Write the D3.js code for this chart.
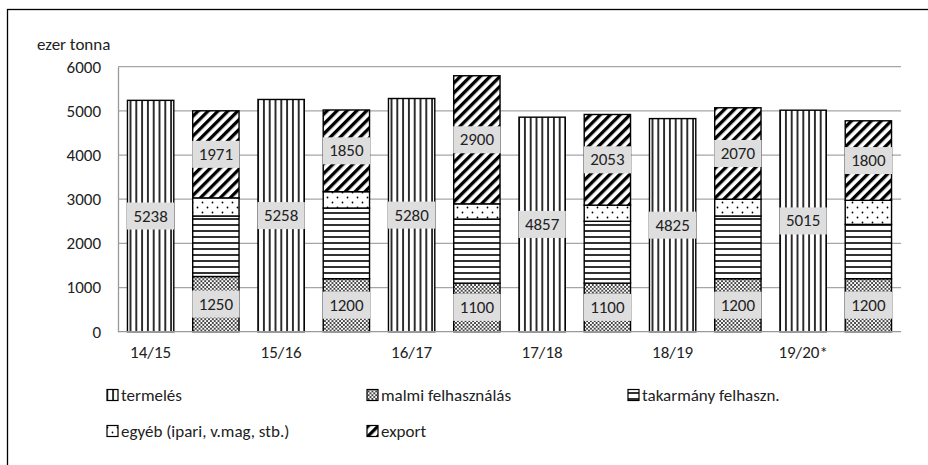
<!DOCTYPE html>
<html>
<head>
<meta charset="utf-8">
<script src="https://cdn.jsdelivr.net/npm/d3@7/dist/d3.min.js"></script>
<style>
  html, body { margin: 0; padding: 0; background: #fff; }
  svg { display: block; }
  text { font-family: Carlito, Calibri, Lato, sans-serif; fill: #222; }
</style>
</head>
<body>
<svg id="chart" width="928" height="465"></svg>
<script>
// ---- data ----
const seasons   = ["14/15", "15/16", "16/17", "17/18", "18/19", "19/20*"];
const termeles  = [5238, 5258, 5280, 4857, 4825, 5015];
const malmi     = [1250, 1200, 1100, 1100, 1200, 1200];
const takarmany = [1370, 1600, 1450, 1400, 1420, 1230];
const egyeb     = [410, 370, 345, 365, 380, 545];
const exportV   = [1971, 1850, 2900, 2053, 2070, 1800];
const yTicks    = [0, 1000, 2000, 3000, 4000, 5000, 6000];
const seriesNames = ["termelés", "malmi felhasználás", "takarmány felhaszn.", "egyéb (ipari, v.mag, stb.)", "export"];
const seriesKeys  = ["termeles", "malmi", "takarmany", "egyeb", "export"];
const labeledKeys = ["termeles", "malmi", "export"];

// ---- build rows: two bars per season ----
const rows = [];
seasons.forEach((s, i) => {
  rows.push({ key: s + "|p", season: s, kind: "p", termeles: termeles[i], malmi: 0, takarmany: 0, egyeb: 0, export: 0 });
  rows.push({ key: s + "|u", season: s, kind: "u", termeles: 0, malmi: malmi[i], takarmany: takarmany[i], egyeb: egyeb[i], export: exportV[i] });
});

const svg = d3.select("#chart");
const plot = { left: 118, right: 901, top: 66.7, bottom: 331.7 };
const FS = "17px";

// frame (cropped on right/bottom)
svg.append("rect").attr("x", 7.5).attr("y", 9.5).attr("width", 940).attr("height", 480)
  .attr("fill", "none").attr("stroke", "#000").attr("stroke-width", 1.3);

// ---- patterns ----
const defs = svg.append("defs");
function pat(id, w, h, transform) {
  const p = defs.append("pattern").attr("id", id).attr("patternUnits", "userSpaceOnUse")
    .attr("width", w).attr("height", h);
  if (transform) p.attr("patternTransform", transform);
  p.append("rect").attr("width", w).attr("height", h).attr("fill", "#fff");
  return p;
}
pat("p-termeles", 5.8, 6).append("rect").attr("x", 2.1).attr("y", 0).attr("width", 1.6).attr("height", 6).attr("fill", "#000");
(function () {
  const p = pat("p-malmi", 3.8, 3.8);
  p.append("path").attr("d", "M0,0 L3.8,3.8 M3.8,0 L0,3.8").attr("stroke", "#000").attr("stroke-width", 0.7);
})();
pat("p-takarmany", 6, 6).append("rect").attr("x", 0).attr("y", 2.2).attr("width", 6).attr("height", 1.6).attr("fill", "#000");
(function () {
  const p = pat("p-egyeb", 10, 10);
  p.append("circle").attr("cx", 2.5).attr("cy", 2.5).attr("r", 0.9).attr("fill", "#000");
  p.append("circle").attr("cx", 7.5).attr("cy", 7.5).attr("r", 0.9).attr("fill", "#000");
})();
pat("p-export", 7, 7, "rotate(45)").append("rect").attr("x", 0).attr("y", 0).attr("width", 3.3).attr("height", 7).attr("fill", "#000");

// ---- scales ----
const x = d3.scaleBand().domain(rows.map(d => d.key)).range([plot.left, plot.right])
  .paddingInner(0.29).paddingOuter(0.145);
const y = d3.scaleLinear().domain([0, 6000]).range([plot.bottom, plot.top]);

// gridlines
svg.append("g").selectAll("line").data(yTicks.filter(t => t > 0)).join("line")
  .attr("x1", plot.left).attr("x2", plot.right)
  .attr("y1", d => y(d)).attr("y2", d => y(d))
  .attr("stroke", "#a6a6a6").attr("stroke-width", 1.3);

// y axis
const yAxis = svg.append("g").attr("transform", `translate(${plot.left},0)`)
  .call(d3.axisLeft(y).tickValues(yTicks).tickFormat(d3.format("d")).tickSize(0).tickPadding(17));
yAxis.select(".domain").attr("stroke", "#999").attr("stroke-width", 1.3);
yAxis.selectAll("text").style("font-size", FS).attr("fill", "#222");

// ---- stacked bars ----
const stack = d3.stack().keys(seriesKeys)(rows);
const gBars = svg.append("g");
stack.forEach(layer => {
  const key = layer.key;
  gBars.append("g").selectAll("rect").data(layer.filter(d => d[1] - d[0] > 0)).join("rect")
    .attr("x", d => x(d.data.key))
    .attr("width", x.bandwidth())
    .attr("y", d => y(d[1]))
    .attr("height", d => y(d[0]) - y(d[1]))
    .attr("fill", `url(#p-${key})`)
    .attr("stroke", "#000").attr("stroke-width", 1.4);
});

// x axis
const xAxis = svg.append("g").attr("transform", `translate(0,${plot.bottom})`)
  .call(d3.axisBottom(x).tickSize(0).tickPadding(14)
    .tickFormat(k => k.endsWith("|p") ? k.split("|")[0] : ""));
xAxis.select(".domain").attr("stroke", "#999").attr("stroke-width", 1.3)
  .attr("d", `M${plot.left},0H${plot.right}`);
xAxis.selectAll("text").style("font-size", FS).attr("fill", "#222");

// ---- data labels ----
const gLab = svg.append("g");
stack.filter(l => labeledKeys.includes(l.key)).forEach(layer => {
  layer.filter(d => d[1] - d[0] > 0).forEach(d => {
    const cx = x(d.data.key) + x.bandwidth() / 2;
    const cy = y((d[0] + d[1]) / 2);
    const bw = x.bandwidth() + 1, bh = 27;
    gLab.append("rect").attr("x", cx - bw / 2).attr("y", cy - bh / 2)
      .attr("width", bw).attr("height", bh).attr("fill", "#dedede");
    gLab.append("text").attr("x", cx).attr("y", cy).attr("text-anchor", "middle")
      .attr("dominant-baseline", "central").style("font-size", FS).attr("fill", "#222")
      .text(d3.format("d")(d[1] - d[0]));
  });
});

// y title
svg.append("text").attr("x", 37).attr("y", 50).style("font-size", FS).attr("fill", "#222").text("ezer tonna");

// ---- legend ----
const legendPos = [
  { x: 107, y: 395 }, { x: 367, y: 395 }, { x: 628, y: 395 },
  { x: 107, y: 431 }, { x: 367, y: 431 }
];
const gLeg = svg.append("g");
seriesKeys.forEach((k, i) => {
  const p = legendPos[i];
  gLeg.append("rect").attr("x", p.x).attr("y", p.y - 5.5).attr("width", 11).attr("height", 11)
    .attr("fill", `url(#p-${k})`).attr("stroke", "#000").attr("stroke-width", 1.2);
  gLeg.append("text").attr("x", p.x + 14).attr("y", p.y).attr("dominant-baseline", "central")
    .style("font-size", FS).attr("fill", "#222").text(seriesNames[i]);
});
</script>
</body>
</html>
